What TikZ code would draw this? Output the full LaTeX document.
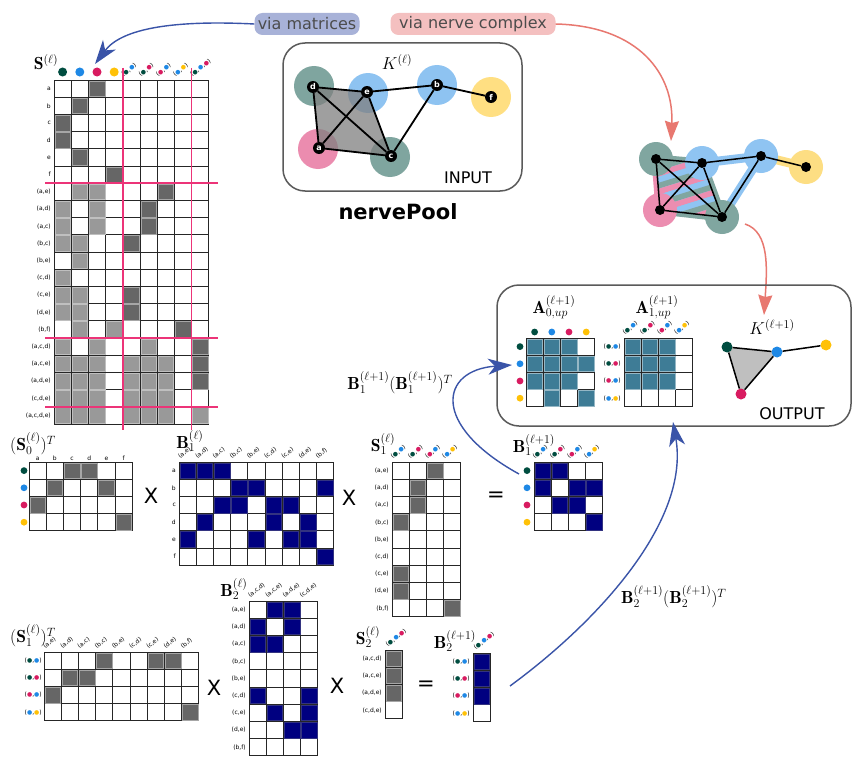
\documentclass[tikz,border=0pt]{standalone}
\usepackage{fontspec}
\usetikzlibrary{arrows.meta}
\newfontfamily\djv{DejaVu Sans}
\definecolor{cg}{RGB}{0,77,64}
\definecolor{cb}{RGB}{30,136,229}
\definecolor{cr}{RGB}{216,27,96}
\definecolor{cy}{RGB}{255,193,7}
\definecolor{pg}{RGB}{128,166,160}
\definecolor{pb}{RGB}{143,196,242}
\definecolor{ppk}{RGB}{236,141,176}
\definecolor{py}{RGB}{253,222,131}
\definecolor{navyc}{RGB}{0,0,128}
\definecolor{dkc}{RGB}{102,102,102}
\definecolor{ltc}{RGB}{153,153,153}
\definecolor{tealc}{RGB}{62,124,150}
\definecolor{pinkline}{RGB}{236,52,120}
\definecolor{barrow}{RGB}{58,84,168}
\definecolor{rarrow}{RGB}{232,120,112}
\definecolor{vmfill}{RGB}{168,178,216}
\definecolor{vnfill}{RGB}{244,192,192}
\definecolor{boxc}{RGB}{90,90,90}
\newcommand\dt[1]{\textcolor{#1}{●}}
\newcommand\pair[2]{(\dt{#1},\dt{#2})}
\newcommand\trip[3]{(\dt{#1},\dt{#2},\dt{#3})}
\newcommand\lf{\fontsize{6}{7}\selectfont\djv}
\newcommand\tf{\fontsize{17.5}{19}\selectfont}
\newcommand\csz{17.2}
\newcommand\mgrid[5]{%
  \foreach \mi in {0,...,#3} {\draw[gl] ({#1+\mi*\csz},#2) -- ({#1+\mi*\csz},{#2+#4*\csz});}%
  \foreach \mj in {0,...,#4} {\draw[gl] (#1,{#2+\mj*\csz}) -- ({#1+#3*\csz},{#2+\mj*\csz});}%
  \foreach \mc/\mr/\ms in {#5} {\draw[\ms] ({#1+(\mc-1)*\csz+0.8},{#2+(\mr-1)*\csz+0.8}) rectangle ({#1+\mc*\csz-0.8},{#2+\mr*\csz-0.8});}%
}
\def\edgelist{{(a,e)},{(a,d)},{(a,c)},{(b,c)},{(b,e)},{(c,d)},{(c,e)},{(d,e)},{(b,f)}}
\def\trilist{{(a,c,d)},{(a,c,e)},{(a,d,e)},{(c,d,e)}}
\def\pairlist{cg/cb,cg/cr,cr/cb,cb/cy}
\begin{document}
\begin{tikzpicture}[x=1pt,y=-1pt,
 gl/.style={draw=black!85,line width=0.8pt},
 dk/.style={fill=dkc,draw=black!35,line width=0.6pt},
 lt/.style={fill=ltc,draw=black!25,line width=0.6pt},
 nv/.style={fill=navyc,draw=navyc!60!gray,line width=0.6pt},
 tl/.style={fill=tealc,draw=tealc!55!white,line width=0.6pt},
 rl/.style={anchor=east,font=\lf,inner sep=1pt},
 hdr/.style={rotate=38,anchor=south west,inner sep=0.3pt,font=\lf},
 ttl/.style={font=\tf,inner sep=0pt},
 opsym/.style={font=\fontsize{21}{22}\selectfont\djv,inner sep=0pt},
 pinkl/.style={draw=pinkline,line width=1.6pt},
 vx/.style={circle,fill=black,text=white,inner sep=0pt,minimum size=12pt,font=\fontsize{8}{8}\selectfont\djv\bfseries},
 odot/.style={circle,fill=black,inner sep=0pt,minimum size=10pt},
 kdot/.style={circle,inner sep=0pt,minimum size=11pt},
 gedge/.style={line width=1.8pt},
 kedge/.style={line width=1.5pt},
 barr/.style={draw=barrow,line width=1.4pt,-{Stealth[length=24pt,width=16pt,inset=7pt]}},
 rarr/.style={draw=rarrow,line width=1.5pt,-{Stealth[length=20pt,width=14pt,inset=2pt]}},
 rbox/.style={draw=boxc,line width=1.5pt,rounded corners=22pt},
 sans/.style={font=\fontsize{16}{18}\selectfont\djv,inner sep=0pt},
 ]
\useasboundingbox (0,0) rectangle (867,760);
\fill[white] (0,0) rectangle (867,760);

% ---------- labels and arrows at top ----------
\node[sans,fill=vmfill,rounded corners=8pt,minimum height=22pt,minimum width=105pt,text=black!70] (vm) at (307,24) {via matrices};
\node[sans,fill=vnfill,rounded corners=8pt,minimum height=22pt,minimum width=165pt,text=black!70] (vn) at (473,24) {via nerve complex};
\coordinate (tipS) at (95,64);
\draw[barr] (vm.west) .. controls (175,20) and (122,28) .. (tipS);
\coordinate (tipN) at (671,141);
\draw[rarr] (vn.east) .. controls (640,26) and (674,75) .. (tipN);

% ---------- S matrix ----------
\node[ttl] (Stit) at (46,62) {$\mathbf{S}^{(\ell)}$};
\mgrid{54}{80}{9}{20}{3/1/dk,2/2/dk,1/3/dk,1/4/dk,2/5/dk,4/6/dk,%
2/7/lt,3/7/lt,7/7/dk,%
1/8/lt,3/8/lt,6/8/dk,%
1/9/lt,3/9/lt,6/9/dk,%
1/10/lt,2/10/lt,5/10/dk,%
2/11/lt,%
1/12/lt,%
1/13/lt,2/13/lt,5/13/dk,%
1/14/lt,2/14/lt,5/14/dk,%
2/15/lt,4/15/lt,8/15/dk,%
1/16/lt,3/16/lt,6/16/lt,9/16/dk,%
1/17/lt,2/17/lt,3/17/lt,5/17/lt,6/17/lt,7/17/lt,9/17/dk,%
1/18/lt,2/18/lt,3/18/lt,5/18/lt,6/18/lt,7/18/lt,9/18/dk,%
1/19/lt,2/19/lt,3/19/lt,5/19/lt,6/19/lt,7/19/lt,%
1/20/lt,2/20/lt,3/20/lt,5/20/lt,6/20/lt,7/20/lt,9/20/lt}
\foreach \l [count=\i] in {a,b,c,d,e,f,{(a,e)},{(a,d)},{(a,c)},{(b,c)},{(b,e)},{(c,d)},{(c,e)},{(d,e)},{(b,f)},{(a,c,d)},{(a,c,e)},{(a,d,e)},{(c,d,e)},{(a,c,d,e)}}
  \node[rl] at (52,{80+(\i-0.5)*\csz}) {\l};
\foreach \cl [count=\i] in {cg,cb,cr,cy} \fill[\cl] ({54+(\i-0.5)*\csz},72) circle (4.5);
\foreach \p/\q [count=\i] in \pairlist \node[hdr] at ({54+(\i+3)*\csz+1},78) {\pair{\p}{\q}};
\node[hdr] at ({54+8*\csz+1},78) {\trip{cg}{cb}{cr}};
\draw[pinkl] ({54+4*\csz},68) -- ({54+4*\csz},430);
\draw[pinkl] ({54+8*\csz},68) -- ({54+8*\csz},430);
\foreach \k in {6,15,19} \draw[pinkl] (45,{80+\k*\csz}) -- (218,{80+\k*\csz});

% ---------- input complex ----------
\draw[rbox] (283,43) rectangle (522,191);
\node[ttl] (Kin) at (397,62) {$K^{(\ell)}$};
\fill[cg,opacity=.5] (314,86) circle (20);
\fill[cb,opacity=.5] (368,93) circle (20);
\fill[cb,opacity=.5] (437,85) circle (20);
\fill[cy,opacity=.5] (491,97) circle (20);
\fill[cr,opacity=.5] (318,149) circle (20);
\fill[cg,opacity=.5] (390,157) circle (20);
\fill[black!50,opacity=.75] (313,87) -- (367,92) -- (391,156) -- (319,148) -- cycle;
\node[vx] (nd) at (313,87) {d};
\node[vx] (ne) at (367,92) {e};
\node[vx] (nb) at (437,85) {b};
\node[vx] (nf) at (491,97) {f};
\node[vx] (na) at (319,148) {a};
\node[vx] (nc) at (391,156) {c};
\draw[gedge] (nd) -- (ne); \draw[gedge] (ne) -- (nb); \draw[gedge] (nb) -- (nf);
\draw[gedge] (nb) -- (nc); \draw[gedge] (nd) -- (na); \draw[gedge] (na) -- (nc);
\draw[gedge] (nd) -- (nc); \draw[gedge] (na) -- (ne); \draw[gedge] (ne) -- (nc);
\node[sans] (inp) at (468,178) {INPUT};
\node[font=\fontsize{21}{22}\selectfont\djv\bfseries,inner sep=0pt] (np) at (398,212) {nervePool};

% ---------- nerve complex (middle right) ----------
\coordinate (o1) at (656,159); \coordinate (o2) at (702,163); \coordinate (o3) at (761,156);
\coordinate (o4) at (806,167); \coordinate (o5) at (660,210); \coordinate (o6) at (722,217);
\draw[line width=9pt,pb,line cap=round] (o2) -- (o3);
\draw[line width=9pt,py,line cap=round] (o3) -- (o4);
\draw[line width=9pt,pb,line cap=round] (o3) -- (o6);
\draw[line width=9pt,ppk,line cap=round] (o1) -- (o5);
\draw[line width=9pt,pg,line cap=round,line join=round] (o5) -- (o6) -- (o2) -- (o1);
\begin{scope}
  \clip (o1) -- (o2) -- (o6) -- (o5) -- cycle;
  \fill[pb] (640,140) rectangle (740,230);
  \foreach \n in {0,...,40} {
    \pgfmathtruncatemacro\mm{mod(\n,3)}
    \ifcase\mm \def\scol{ppk}\or \def\scol{pb}\or \def\scol{pg}\fi
    \draw[draw=\scol,line width=5.6pt] (600,{120+\n*6}) -- (770,{67+\n*6});
  }
\end{scope}
\fill[pg] (o1) circle (17); \fill[pb] (o2) circle (17); \fill[pb] (o3) circle (17);
\fill[py] (o4) circle (17); \fill[ppk] (o5) circle (17); \fill[pg] (o6) circle (17);
\node[odot] (m1) at (o1) {}; \node[odot] (m2) at (o2) {}; \node[odot] (m3) at (o3) {};
\node[odot] (m4) at (o4) {}; \node[odot] (m5) at (o5) {}; \node[odot] (m6) at (o6) {};
\draw[kedge] (m1) -- (m2); \draw[kedge] (m2) -- (m3); \draw[kedge] (m3) -- (m4);
\draw[kedge] (m3) -- (m6); \draw[kedge] (m1) -- (m5); \draw[kedge] (m5) -- (m6);
\draw[kedge] (m1) -- (m6); \draw[kedge] (m5) -- (m2); \draw[kedge] (m2) -- (m6);
\coordinate (rs) at (745,224); \coordinate (tipO) at (764,315);
\draw[rarr] (rs) .. controls (770,232) and (767,270) .. (tipO);

% ---------- output box ----------
\draw[rbox] (497,285) rectangle (851,426);
\node[ttl] (A0t) at (554,307) {$\mathbf{A}_{0,up}^{(\ell+1)}$};
\node[ttl] (A1t) at (657,307) {$\mathbf{A}_{1,up}^{(\ell+1)}$};
\mgrid{526}{338}{4}{4}{1/1/tl,2/1/tl,3/1/tl,1/2/tl,2/2/tl,3/2/tl,4/2/tl,1/3/tl,2/3/tl,3/3/tl,2/4/tl,4/4/tl}
\foreach \cl [count=\i] in {cg,cb,cr,cy} {
  \fill[\cl] ({526+(\i-0.5)*\csz},332) circle (3.4);
  \fill[\cl] (520,{338+(\i-0.5)*\csz}) circle (3.4);
}
\mgrid{624}{338}{4}{4}{1/1/tl,2/1/tl,3/1/tl,1/2/tl,2/2/tl,3/2/tl,1/3/tl,2/3/tl,3/3/tl}
\foreach \p/\q [count=\i] in \pairlist {
  \node[hdr] at ({624+(\i-1)*\csz+1},336) {\pair{\p}{\q}};
  \node[rl] at (622,{338+(\i-0.5)*\csz}) {\pair{\p}{\q}};
}
\node[ttl] (Kout) at (772,327) {$K^{(\ell+1)}$};
\fill[black!25] (727,347) -- (777,352) -- (741,394) -- cycle;
\node[kdot,fill=cg] (k1) at (727,347) {};
\node[kdot,fill=cb] (k2) at (777,352) {};
\node[kdot,fill=cy] (k3) at (826,345) {};
\node[kdot,fill=cr] (k4) at (741,394) {};
\draw[kedge] (k1) -- (k2); \draw[kedge] (k2) -- (k3); \draw[kedge] (k1) -- (k4); \draw[kedge] (k4) -- (k2);
\node[sans] (outp) at (792,414) {OUTPUT};

% ---------- middle row ----------
\node[ttl] (S0t) at (33,444) {$(\mathbf{S}_0^{(\ell)})^T$};
\mgrid{29}{462}{6}{4}{3/1/dk,4/1/dk,2/2/dk,5/2/dk,1/3/dk,6/4/dk}
\foreach \l [count=\i] in {a,b,c,d,e,f} \node[font=\lf,anchor=south,inner sep=0.6pt] at ({29+(\i-0.5)*\csz},461) {\l};
\foreach \cl [count=\i] in {cg,cb,cr,cy} \fill[\cl] (24,{462+(\i-0.5)*\csz}) circle (3.4);
\node[opsym] (x1) at (151,496) {X};

\node[ttl] (B1t) at (190,441) {$\mathbf{B}_1^{(\ell)}$};
\mgrid{179}{462}{9}{6}{1/1/nv,2/1/nv,3/1/nv,4/2/nv,5/2/nv,9/2/nv,3/3/nv,4/3/nv,6/3/nv,7/3/nv,2/4/nv,6/4/nv,8/4/nv,1/5/nv,5/5/nv,7/5/nv,8/5/nv,9/6/nv}
\foreach \l [count=\i] in \edgelist \node[hdr] at ({179+(\i-1)*\csz+1.5},460) {\l};
\foreach \l [count=\i] in {a,b,c,d,e,f} \node[rl] at (177,{462+(\i-0.5)*\csz}) {\l};
\node[opsym] (x2) at (349,498) {X};

\node[ttl] (S1t) at (383,444) {$\mathbf{S}_1^{(\ell)}$};
\mgrid{392}{462}{4}{9}{3/1/dk,2/2/dk,2/3/dk,1/4/dk,1/7/dk,1/8/dk,4/9/dk}
\foreach \p/\q [count=\i] in \pairlist \node[hdr] at ({392+(\i-1)*\csz+1},460) {\pair{\p}{\q}};
\foreach \l [count=\i] in \edgelist \node[rl] at (390,{462+(\i-0.5)*\csz}) {\l};
\node[opsym] (eq1) at (496,497) {=};

\node[ttl] (B1nt) at (534,445) {$\mathbf{B}_1^{(\ell+1)}$};
\mgrid{534}{462}{4}{4}{1/1/nv,2/1/nv,1/2/nv,3/2/nv,4/2/nv,2/3/nv,3/3/nv,4/4/nv}
\foreach \p/\q [count=\i] in \pairlist \node[hdr] at ({534+(\i-1)*\csz+1},460) {\pair{\p}{\q}};
\foreach \cl [count=\i] in {cg,cb,cr,cy} \fill[\cl] (527,{462+(\i-0.5)*\csz}) circle (3.4);

% ---------- bottom row ----------
\node[ttl] (S1Tt) at (33,636) {$(\mathbf{S}_1^{(\ell)})^T$};
\mgrid{44}{652}{9}{4}{4/1/dk,7/1/dk,8/1/dk,2/2/dk,3/2/dk,1/3/dk,9/4/dk}
\foreach \l [count=\i] in \edgelist \node[hdr] at ({44+(\i-1)*\csz+1.5},650) {\l};
\foreach \p/\q [count=\i] in \pairlist \node[rl] at (43,{652+(\i-0.5)*\csz}) {\pair{\p}{\q}};
\node[opsym] (x3) at (214,688) {X};

\node[ttl] (B2t) at (234,589) {$\mathbf{B}_2^{(\ell)}$};
\mgrid{249}{601}{4}{9}{2/1/nv,3/1/nv,1/2/nv,3/2/nv,1/3/nv,2/3/nv,1/6/nv,4/6/nv,2/7/nv,4/7/nv,3/8/nv,4/8/nv}
\foreach \l [count=\i] in \trilist \node[hdr] at ({249+(\i-1)*\csz+1.5},599) {\l};
\foreach \l [count=\i] in \edgelist \node[rl] at (247,{601+(\i-0.5)*\csz}) {\l};
\node[opsym] (x4) at (337,686) {X};

\node[ttl] (S2t) at (368,637) {$\mathbf{S}_2^{(\ell)}$};
\mgrid{385}{650}{1}{4}{1/1/dk,1/2/dk,1/3/dk}
\node[hdr] at (388,648) {\trip{cg}{cb}{cr}};
\foreach \l [count=\i] in \trilist \node[rl] at (383,{650+(\i-0.5)*\csz}) {\l};
\node[opsym] (eq2) at (426,686) {=};

\node[ttl] (B2nt) at (455,641) {$\mathbf{B}_2^{(\ell+1)}$};
\mgrid{473}{653}{1}{4}{1/1/nv,1/2/nv,1/3/nv}
\node[hdr] at (476,651) {\trip{cg}{cb}{cr}};
\foreach \p/\q [count=\i] in \pairlist \node[rl] at (471,{653+(\i-0.5)*\csz}) {\pair{\p}{\q}};

% ---------- blue arrows to output ----------
\coordinate (b1s) at (519,474); \coordinate (b1e) at (512,365);
\draw[barr] (b1s) .. controls (430,425) and (440,370) .. (b1e);
\node[ttl] (lab1) at (400,383) {$\mathbf{B}_1^{(\ell+1)}(\mathbf{B}_1^{(\ell+1)})^T$};
\coordinate (b2s) at (510,686); \coordinate (b2e) at (673,422);
\draw[barr] (b2s) .. controls (600,620) and (690,520) .. (b2e);
\node[ttl,anchor=west] (lab2) at (621,597) {$\mathbf{B}_2^{(\ell+1)}(\mathbf{B}_2^{(\ell+1)})^T$};
\end{tikzpicture}
\end{document}
